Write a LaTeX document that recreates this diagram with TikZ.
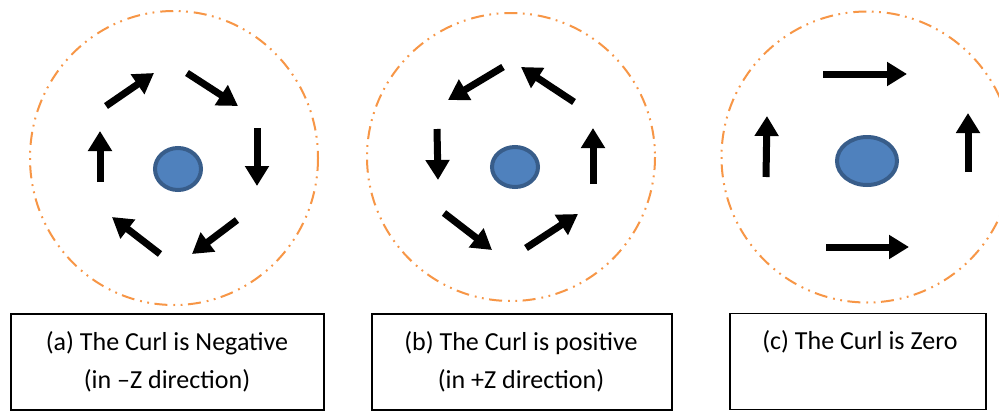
\documentclass[tikz,border=0pt]{standalone}
\usepackage{fontspec}
\setmainfont{Carlito}
\usetikzlibrary{arrows.meta}
\definecolor{ring}{HTML}{F79646}
\definecolor{blobfill}{HTML}{4F81BD}
\definecolor{blobline}{HTML}{385D8A}
\tikzset{
  ringline/.style={draw=ring, line width=2pt,
    dash pattern=on 13pt off 5.5pt on 1.8pt off 5.5pt on 1.8pt off 6pt},
  blob/.style={fill=blobfill, draw=blobline, line width=4pt},
  blockarrow/.style={line width=7pt, black,
    -{Triangle[length=20pt,width=23pt]}},
  capbox/.style={draw=black, line width=1.2pt, rectangle, inner sep=0pt},
  captext/.style={anchor=base, font=\fontsize{26}{30}\selectfont, inner sep=0pt}
}
\begin{document}
\begin{tikzpicture}[x=1pt,y=-1pt]
\useasboundingbox (0,0) rectangle (999,410);
\clip (0,0) rectangle (999,410);
\fill[white] (0,0) rectangle (999,410);

% ---- (a) ----
\draw[ringline] (174,158) ellipse [x radius=144, y radius=147];
\draw[blob] (178,169) ellipse [x radius=23, y radius=21];
\coordinate (a1s) at (106,106); \coordinate (a1e) at (154,73);
\coordinate (a2s) at (187,73);  \coordinate (a2e) at (238,106);
\coordinate (a3s) at (257,128); \coordinate (a3e) at (257,186);
\coordinate (a4s) at (237,220); \coordinate (a4e) at (192,254);
\coordinate (a5s) at (160,254); \coordinate (a5e) at (112,217);
\coordinate (a6s) at (100,182); \coordinate (a6e) at (100,131);
\foreach \i in {1,...,6} \draw[blockarrow] (a\i s) -- (a\i e);

% ---- (b) ----
\draw[ringline] (511,157) circle [radius=144];
\draw[blob] (515,167) ellipse [x radius=23, y radius=20];
\coordinate (b1s) at (503,67);  \coordinate (b1e) at (448,100);
\coordinate (b2s) at (574,102); \coordinate (b2e) at (521,67);
\coordinate (b3s) at (593,184); \coordinate (b3e) at (593,128);
\coordinate (b4s) at (526,248); \coordinate (b4e) at (578,214);
\coordinate (b5s) at (444,213); \coordinate (b5e) at (492,250);
\coordinate (b6s) at (437,129); \coordinate (b6e) at (438,180);
\foreach \i in {1,...,6} \draw[blockarrow] (b\i s) -- (b\i e);

% ---- (c) ----
\draw[ringline] (867,157) circle [radius=145.5];
\draw[blob] (867,161) ellipse [x radius=30, y radius=24];
\coordinate (c1s) at (823,74);  \coordinate (c1e) at (907,74);
\coordinate (c2s) at (826,247); \coordinate (c2e) at (909,247);
\coordinate (c3s) at (766,177); \coordinate (c3e) at (767,116);
\coordinate (c4s) at (968,172); \coordinate (c4e) at (968,113);
\foreach \i in {1,...,4} \draw[blockarrow] (c\i s) -- (c\i e);

% ---- caption boxes ----
\node[capbox, minimum width=313pt, minimum height=96pt] (boxa) at (167.5,362) {};
\node[capbox, minimum width=300pt, minimum height=96pt] (boxb) at (522,362) {};
\node[capbox, minimum width=256pt, minimum height=96pt] (boxc) at (858,361.5) {};

\node[captext] (ta1) at (167,350) {(a) The Curl is Negative};
\node[captext] (ta2) at (167,388) {(in –Z direction)};
\node[captext] (tb1) at (521,350) {(b) The Curl is positive};
\node[captext] (tb2) at (521,388) {(in +Z direction)};
\node[captext] (tc1) at (860,349) {(c) The Curl is Zero};
\end{tikzpicture}
\end{document}
